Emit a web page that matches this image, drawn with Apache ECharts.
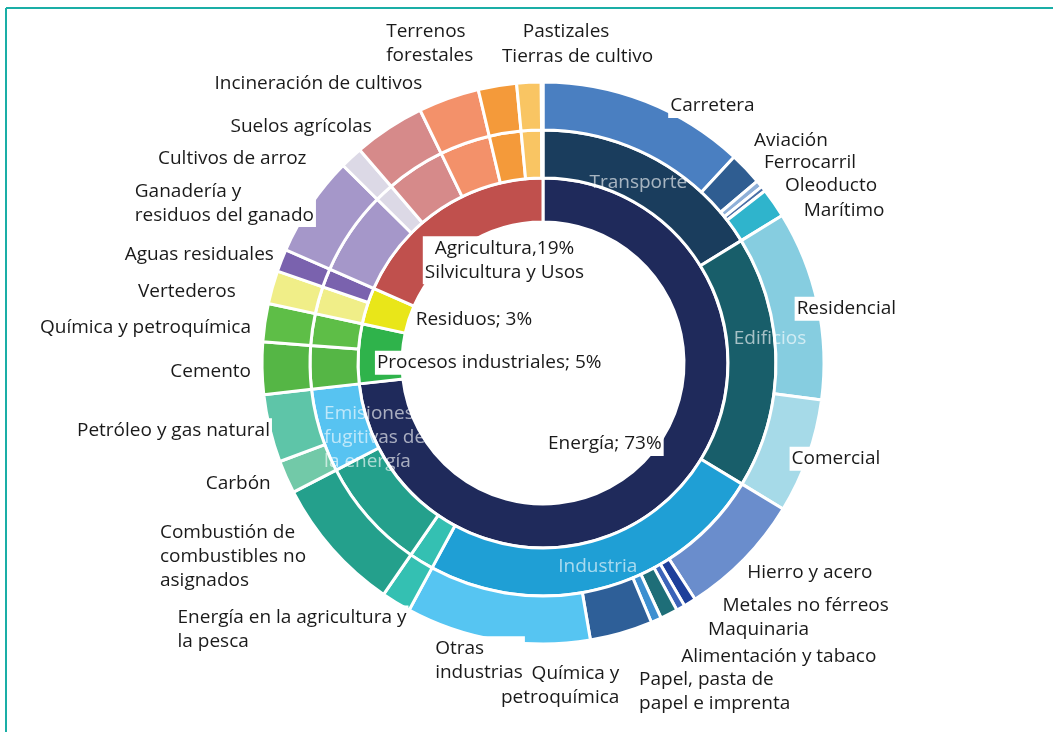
<!DOCTYPE html>
<html>
<head>
<meta charset="utf-8">
<script src="https://cdn.jsdelivr.net/npm/echarts@6/dist/echarts.min.js"></script>
<style>
  html, body { margin: 0; padding: 0; background: #fff; }
  #chart { width: 1053px; height: 732px; }
</style>
</head>
<body>
<div id="chart"></div>
<script>
// anillo interior: sectores (% del total de emisiones)
const sectorNames = ["Energía", "Procesos industriales", "Residuos", "Agricultura, Silvicultura y Usos"];
const sectorValues = [73.2, 5.2, 3.2, 18.4];
const sectorLabels = ["Energía; 73%", "Procesos industriales; 5%", "Residuos; 3%", "Agricultura,19%\nSilvicultura y Usos"];

// anillo medio: subsectores
const subNames = [
  "Transporte", "Edificios", "Industria", "Energía en la agricultura y la pesca",
  "Combustión de combustibles no asignados", "Emisiones fugitivas de la energía",
  "Cemento", "Química y petroquímica", "Vertederos", "Aguas residuales",
  "Ganadería y residuos del ganado", "Cultivos de arroz", "Suelos agrícolas",
  "Incineración de cultivos", "Terrenos forestales", "Tierras de cultivo", "Pastizales",
];
const subValues = [16.2, 17.5, 24.2, 1.7, 7.8, 5.8, 3.0, 2.2, 1.9, 1.3, 5.8, 1.3, 4.1, 3.5, 2.2, 1.4, 0.1];
const subLabels = ["Transporte", "Edificios", "Industria", "", "", "Emisiones\nfugitivas de\nla energía",
  "", "", "", "", "", "", "", "", "", "", ""];

// anillo exterior: detalle
const detailNames = [
  "Carretera", "Aviación", "Ferrocarril", "Oleoducto", "Marítimo",
  "Residencial", "Comercial",
  "Hierro y acero", "Metales no férreos", "Maquinaria", "Alimentación y tabaco",
  "Papel, pasta de papel e imprenta", "Química y petroquímica", "Otras industrias",
  "Energía en la agricultura y la pesca", "Combustión de combustibles no asignados",
  "Carbón", "Petróleo y gas natural",
  "Cemento", "Química y petroquímica (procesos)",
  "Vertederos", "Aguas residuales",
  "Ganadería y residuos del ganado", "Cultivos de arroz", "Suelos agrícolas",
  "Incineración de cultivos", "Terrenos forestales", "Tierras de cultivo", "Pastizales",
];
const detailValues = [
  11.9, 1.9, 0.4, 0.3, 1.7,
  10.9, 6.6,
  7.2, 0.7, 0.5, 1.0, 0.6, 3.6, 10.6,
  1.7, 7.8,
  1.9, 3.9,
  3.0, 2.2,
  1.9, 1.3,
  5.8, 1.3, 4.1, 3.5, 2.2, 1.4, 0.1,
];
const detailLabels = [
  "Carretera", "Aviación", "Ferrocarril", "Oleoducto", "Marítimo",
  "Residencial", "Comercial",
  "Hierro y acero", "Metales no férreos", "Maquinaria", "Alimentación y tabaco",
  "Papel, pasta de\npapel e imprenta", "Química y\npetroquímica", "Otras\nindustrias",
  "Energía en la agricultura y\nla pesca", "Combustión de\ncombustibles no\nasignados",
  "Carbón", "Petróleo y gas natural",
  "Cemento", "Química y petroquímica",
  "Vertederos", "Aguas residuales",
  "Ganadería y\nresiduos del ganado", "Cultivos de arroz", "Suelos agrícolas",
  "Incineración de cultivos", "Terrenos\nforestales", "Tierras de cultivo", "Pastizales",
];

// colores
const sectorColors = ["#1f2a5b", "#2fb34b", "#e9e619", "#c0504d"];
const subColors = [
  "#1a3d5d", "#185e6a", "#1f9fd5", "#34c0b2", "#24a08c", "#57c3f1",
  "#55b645", "#5ebe47", "#f0ee88", "#7a62ae",
  "#a597c9", "#dcd9e6", "#d68a8a", "#f3916a", "#f49a3a", "#f9c563", "#f4b183",
];
const detailColors = [
  "#4a7fc1", "#2f5d91", "#8fb0d8", "#4a6fa5", "#2fb4cc",
  "#86cde0", "#a6dae8",
  "#6a8dcc", "#1d3f9a", "#3b63b8", "#1e6e78", "#3d8fd0", "#2e5f98", "#56c5f2",
  "#34c0b2", "#24a08c",
  "#72c9a8", "#5ec5a8",
  "#55b645", "#5ebe47",
  "#f0ee88", "#7a62ae",
  "#a597c9", "#dcd9e6", "#d68a8a", "#f3916a", "#f49a3a", "#f9c563", "#f4b183",
];

// ajuste de etiquetas: [dx, dy, align] respecto al punto medio del arco
const sectorNudge = [[-59, -27, "center"], [108, 8, "center"], [85, 7, "center"], [50, 33, "center"]];
const subNudge = [
  [-7, 3, "center"], [17, -24, "center"], [0, 1, "center"], null, null, [-18, 13, "left"],
  null, null, null, null, null, null, null, null, null, null, null,
];
const detailNudge = [
  [20, 11, "left"], [1, -23, "left"], [-3, -17, "left"], [14, 1, "left"], [22, 12, "left"],
  [-30, 6, "left"], [-25, 0, "left"],
  [-4, 9, "left"], [27, -3, "left"], [22, 16, "left"], [7, 36, "left"], [-22, 65, "left"],
  [-2, 46, "right"], [-63, 13, "left"],
  [-217, 21, "left"], [-169, 3, "left"],
  [-7, 4, "right"], [9, 0, "right"],
  [-2, 3, "right"], [-5, 6, "right"],
  [-28, 6, "right"], [1, -3, "right"],
  [-172, 2, "left"], [-38, 6, "right"], [-11, 4, "right"],
  [-22, -8, "right"], [-112, -35, "left"], [49, -19, "center"], [24, -43, "center"],
];

const CX = 543;
const CY = 363;
const FONT = "Open Sans";
const FONT_SIZE = 19;

const chart = echarts.init(document.getElementById("chart"));

// angulo medio (grados, sentido horario desde arriba) de cada porción
function midAngles(values) {
  const total = values.reduce((s, v) => s + v, 0);
  let acc = 0;
  return values.map((v) => {
    const m = ((acc + v / 2) / total) * 360;
    acc += v;
    return m;
  });
}

function placeLabels(values, radius, nudges) {
  const mids = midAngles(values);
  return function (p) {
    const n = nudges[p.dataIndex];
    if (!n) return {};
    const a = (mids[p.dataIndex] * Math.PI) / 180;
    return {
      x: CX + radius * Math.sin(a) + n[0],
      y: CY - radius * Math.cos(a) + n[1],
      align: n[2],
      verticalAlign: "middle",
    };
  };
}

function buildData(names, values, colors, labels) {
  return names.map((name, i) => ({
    name,
    value: values[i],
    itemStyle: { color: colors[i] },
    label: { show: labels[i] !== "", formatter: labels[i] },
  }));
}

const ringStyle = { borderColor: "#fff", borderWidth: 3 };

chart.setOption({
  animation: false,
  backgroundColor: "#fff",
  graphic: [
    { type: "line", shape: { x1: 6, y1: 8, x2: 1053, y2: 8 }, style: { stroke: "#1aaea6", lineWidth: 2 } },
    { type: "line", shape: { x1: 6, y1: 8, x2: 6, y2: 732 }, style: { stroke: "#1aaea6", lineWidth: 2 } },
  ],
  series: [
    {
      name: "Sector",
      type: "pie",
      center: [CX, CY],
      radius: [141, 185],
      startAngle: 90,
      clockwise: true,
      silent: true,
      avoidLabelOverlap: false,
      itemStyle: ringStyle,
      label: {
        position: "outside",
        fontFamily: FONT,
        fontSize: FONT_SIZE,
        lineHeight: 24,
        color: "#1a1a1a",
        backgroundColor: "#fff",
        padding: [0, 2],
      },
      labelLine: { show: false },
      labelLayout: placeLabels(sectorValues, 162, sectorNudge),
      data: buildData(sectorNames, sectorValues, sectorColors, sectorLabels),
    },
    {
      name: "Subsector",
      type: "pie",
      center: [CX, CY],
      radius: [185, 233],
      startAngle: 90,
      clockwise: true,
      silent: true,
      avoidLabelOverlap: false,
      itemStyle: ringStyle,
      label: {
        position: "outside",
        fontFamily: FONT,
        fontSize: FONT_SIZE,
        lineHeight: 24,
        color: "rgba(255,255,255,0.62)",
      },
      labelLine: { show: false },
      labelLayout: placeLabels(subValues, 210, subNudge),
      data: buildData(subNames, subValues, subColors, subLabels),
    },
    {
      name: "Detalle",
      type: "pie",
      center: [CX, CY],
      radius: [233, 281],
      startAngle: 90,
      clockwise: true,
      silent: true,
      avoidLabelOverlap: false,
      itemStyle: ringStyle,
      label: {
        position: "outside",
        fontFamily: FONT,
        fontSize: FONT_SIZE,
        lineHeight: 24,
        color: "#1a1a1a",
        backgroundColor: "#fff",
        padding: [0, 2],
      },
      labelLine: { show: false },
      labelLayout: placeLabels(detailValues, 288, detailNudge),
      data: buildData(detailNames, detailValues, detailColors, detailLabels),
    },
  ],
});
</script>
</body>
</html>
